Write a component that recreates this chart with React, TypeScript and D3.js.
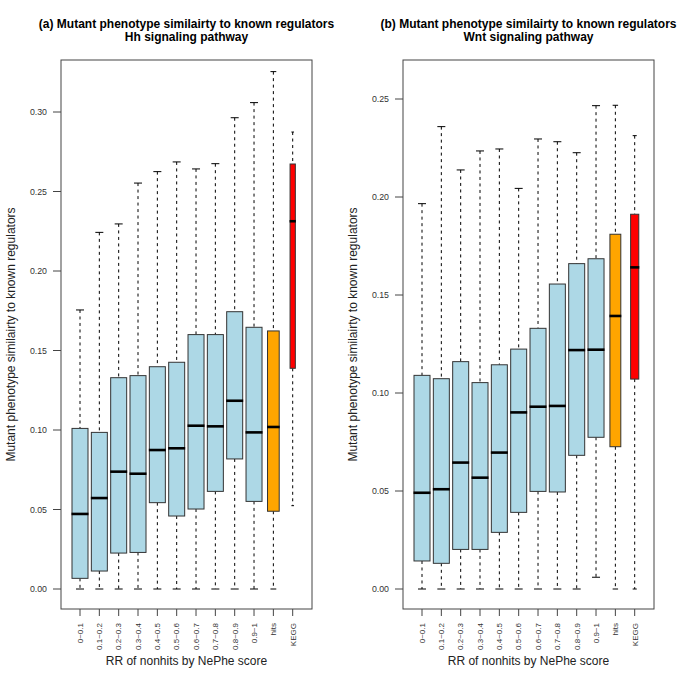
import React from "react";
import * as d3 from "d3";

const categories = ["0~0.1", "0.1~0.2", "0.2~0.3", "0.3~0.4", "0.4~0.5", "0.5~0.6", "0.6~0.7", "0.7~0.8", "0.8~0.9", "0.9~1", "hits", "KEGG"];
const fills = ["#ADD8E6", "#ADD8E6", "#ADD8E6", "#ADD8E6", "#ADD8E6", "#ADD8E6", "#ADD8E6", "#ADD8E6", "#ADD8E6", "#ADD8E6", "#FFA500", "#FF0000"];

// Hh pathway: [lowerWhisker, q1, median, q3, upperWhisker]
const hhLow = [0, 0, 0, 0, 0, 0, 0, 0, 0, 0, 0, 0.0524];
const hhQ1 = [0.0067, 0.0113, 0.0226, 0.023, 0.0543, 0.0459, 0.0503, 0.0614, 0.0818, 0.0551, 0.0489, 0.1388];
const hhMed = [0.0472, 0.0572, 0.0738, 0.0725, 0.0874, 0.0885, 0.1027, 0.1023, 0.1184, 0.0985, 0.1019, 0.2313];
const hhQ3 = [0.101, 0.0985, 0.1329, 0.1342, 0.1398, 0.1426, 0.16, 0.16, 0.1744, 0.1646, 0.1623, 0.2673];
const hhHigh = [0.1755, 0.2243, 0.2296, 0.2553, 0.2625, 0.2686, 0.2642, 0.2675, 0.2964, 0.3059, 0.3254, 0.2874];
const hhRelWidth = [1, 1, 1, 1, 1, 1, 1, 1, 1, 1, 0.73, 0.33];
const hhTicks = [0, 0.05, 0.1, 0.15, 0.2, 0.25, 0.3];

// Wnt pathway
const wntLow = [0, 0, 0, 0, 0, 0, 0, 0, 0, 0.006, 0, 0];
const wntQ1 = [0.0143, 0.0131, 0.0202, 0.0202, 0.0289, 0.0391, 0.0498, 0.0495, 0.0682, 0.0774, 0.0726, 0.1071];
const wntMed = [0.0491, 0.0509, 0.0645, 0.0568, 0.0696, 0.0901, 0.093, 0.0934, 0.1219, 0.1221, 0.1393, 0.1641];
const wntQ3 = [0.109, 0.1073, 0.116, 0.1053, 0.1144, 0.1224, 0.133, 0.1556, 0.166, 0.1685, 0.181, 0.1912];
const wntHigh = [0.1966, 0.2359, 0.2138, 0.2235, 0.2245, 0.2044, 0.2296, 0.2282, 0.2226, 0.2466, 0.2468, 0.2313];
const wntRelWidth = [1, 1, 1, 1, 1, 1, 1, 1, 1, 1, 0.68, 0.51];
const wntTicks = [0, 0.05, 0.1, 0.15, 0.2, 0.25];

const FONT = "'Liberation Sans', Arial, Helvetica, sans-serif";
const AX = "#444";

type PanelProps = {
  ox: number;
  title1: string;
  title2: string;
  low: number[]; q1: number[]; med: number[]; q3: number[]; high: number[];
  relWidth: number[];
  ticks: number[];
  yTopVal: number;
  yTopPix: number;
};

function Panel(p: PanelProps) {
  const left = p.ox + 61;
  const right = p.ox + 312;
  const top = 60;
  const bottom = 609;
  const x = d3.scaleLinear().domain([0, categories.length - 1]).range([left + 19, left + 231.7]);
  const y = d3.scaleLinear().domain([0, p.yTopVal]).range([589, p.yTopPix]);
  const fullW = 16;
  const cx = (left + right) / 2;
  return (
    <g fontFamily={FONT}>
      <text x={cx} y={28} textAnchor="middle" fontWeight="bold" fontSize={12} fill="#000">{p.title1}</text>
      <text x={cx} y={41} textAnchor="middle" fontWeight="bold" fontSize={12} fill="#000">{p.title2}</text>
      <rect x={left} y={top} width={right - left} height={bottom - top} fill="none" stroke={AX} strokeWidth={1} />
      {p.ticks.map((t) => (
        <g key={t}>
          <line x1={left - 8} x2={left} y1={y(t)} y2={y(t)} stroke={AX} />
          <text x={left - 14} y={y(t)} dy="0.35em" textAnchor="end" fontSize={8.8} fill="#333">{t.toFixed(2)}</text>
        </g>
      ))}
      {categories.map((c, i) => (
        <g key={c}>
          <line x1={x(i)} x2={x(i)} y1={bottom} y2={bottom + 7} stroke={AX} />
          <text transform={`translate(${x(i)},${bottom + 14}) rotate(-90)`} dy="0.35em" textAnchor="end" fontSize={8} fill="#333">{c}</text>
        </g>
      ))}
      <text x={cx} y={665} textAnchor="middle" fontSize={12} fill="#222">RR of nonhits by NePhe score</text>
      <text transform={`translate(${p.ox + 15},${(top + bottom) / 2}) rotate(-90)`} textAnchor="middle" fontSize={12} fill="#222">Mutant phenotype similairty to known regulators</text>
      {categories.map((c, i) => {
        const w = fullW * p.relWidth[i];
        const cap = w / 2;
        const xc = x(i);
        return (
          <g key={"b" + c}>
            <line x1={xc} x2={xc} y1={y(p.high[i])} y2={y(p.q3[i])} stroke="#000" strokeDasharray="3,3.5" />
            <line x1={xc} x2={xc} y1={y(p.q1[i])} y2={y(p.low[i])} stroke="#000" strokeDasharray="3,3.5" />
            <line x1={xc - cap / 2} x2={xc + cap / 2} y1={y(p.high[i])} y2={y(p.high[i])} stroke="#000" />
            <line x1={xc - cap / 2} x2={xc + cap / 2} y1={y(p.low[i])} y2={y(p.low[i])} stroke="#000" />
            <rect x={xc - w / 2} y={y(p.q3[i])} width={w} height={y(p.q1[i]) - y(p.q3[i])} fill={fills[i]} stroke="#333" strokeWidth={1} />
            <line x1={xc - w / 2 - 0.5} x2={xc + w / 2 + 0.5} y1={y(p.med[i])} y2={y(p.med[i])} stroke="#000" strokeWidth={2.6} />
          </g>
        );
      })}
    </g>
  );
}

export default function App() {
  return (
    <svg width={685} height={685} style={{ position: "absolute", left: 0, top: 0, background: "#fff" }}>
      <rect width={685} height={685} fill="#fff" />
      <Panel ox={0} title1="(a) Mutant phenotype similairty to known regulators" title2="Hh signaling pathway"
        low={hhLow} q1={hhQ1} med={hhMed} q3={hhQ3} high={hhHigh} relWidth={hhRelWidth} ticks={hhTicks} yTopVal={0.3} yTopPix={112} />
      <Panel ox={342} title1="(b) Mutant phenotype similairty to known regulators" title2="Wnt signaling pathway"
        low={wntLow} q1={wntQ1} med={wntMed} q3={wntQ3} high={wntHigh} relWidth={wntRelWidth} ticks={wntTicks} yTopVal={0.25} yTopPix={99} />
    </svg>
  );
}
